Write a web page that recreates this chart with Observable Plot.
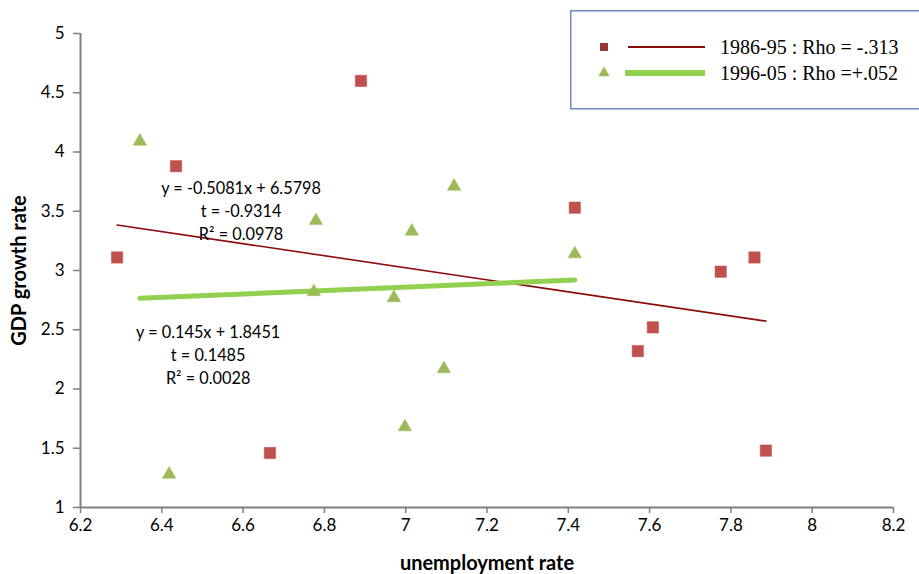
<!DOCTYPE html>
<html><head><meta charset="utf-8">
<script src="https://cdn.jsdelivr.net/npm/d3@7"></script>
<script src="https://cdn.jsdelivr.net/npm/@observablehq/plot@0.6"></script>
<style>
html,body{margin:0;padding:0;background:#fff;}
#wrap{position:relative;width:919px;height:574px;overflow:hidden;}
#legend{position:absolute;left:570px;top:10px;}
#wrap g[aria-label$="tick label"], #wrap g[aria-label$="tick label"] text{font-size:17px !important;font-family:Lato,'Open Sans',sans-serif !important;}
</style></head><body><div id="wrap"></div>
<script>
// ---- data ----
const periods = ["1986-95", "1996-05"];
const rhoLabels = ["-.313", "+.052"];
const unemp8695 = [6.290, 6.435, 6.666, 6.890, 7.416, 7.571, 7.608, 7.775, 7.858, 7.886];
const gdp8695   = [3.11, 3.88, 1.46, 4.60, 3.53, 2.32, 2.52, 2.99, 3.11, 1.48];
const unemp9605 = [6.346, 6.418, 6.779, 6.774, 6.971, 6.998, 7.015, 7.094, 7.119, 7.416];
const gdp9605   = [4.09, 1.28, 3.42, 2.82, 2.77, 1.68, 3.33, 2.17, 3.71, 3.14];
const slopes = [-0.5081, 0.145];
const intercepts = [6.5798, 1.8451];
const tStats = ["-0.9314", "0.1485"];
const r2s = ["0.0978", "0.0028"];
const annotX = [6.595, 6.514];
const annotY = [3.514, 2.297];
const xTicks = [6.2, 6.4, 6.6, 6.8, 7, 7.2, 7.4, 7.6, 7.8, 8, 8.2];
const yTicks = [1, 1.5, 2, 2.5, 3, 3.5, 4, 4.5, 5];

const pointColors = ["#c0504d", "#9bbb59"];
const lineColors = ["#8b0a0a", "#92d050"];
const lineWidths = [1.6, 5];
const symbols = ["square", "triangle"];
const radii = [6.4, 5];

const series = [
  {period: periods[0], xs: unemp8695, ys: gdp8695},
  {period: periods[1], xs: unemp9605, ys: gdp9605}
];
const points = series.flatMap((s, i) => s.xs.map((x, j) => ({x, y: s.ys[j], i})));
const fits = series.map((s, i) => {
  const [x0, x1] = d3.extent(s.xs);
  return [x0, x1].map(x => ({x, y: slopes[i] * x + intercepts[i], i}));
});
const annots = series.map((s, i) => {
  const eq = `y = ${slopes[i]}x + ${intercepts[i]}`;
  return {x: annotX[i], y: annotY[i], text: `${eq}\nt = ${tStats[i]}\nR² = ${r2s[i]}`};
});

const font = "Lato, 'Open Sans', sans-serif";
const chart = Plot.plot({
  width: 919, height: 574,
  marginLeft: 80, marginRight: 26, marginTop: 33, marginBottom: 67,
  style: {fontFamily: font, fontSize: "17px", background: "#fff", color: "#000"},
  x: {domain: [xTicks[0], xTicks[xTicks.length - 1]]},
  y: {domain: [yTicks[0], yTicks[yTicks.length - 1]]},
  marks: [
    Plot.axisY({ticks: yTicks, tickSize: 7, tickPadding: 9, stroke: "#808080", strokeWidth: 1.5, fill: "#000", label: null, tickFormat: d => String(d)}),
    Plot.axisX({ticks: xTicks, tickSize: 6, tickPadding: 5, stroke: "#808080", strokeWidth: 1.5, fill: "#000", label: null, tickFormat: d => String(d)}),
    Plot.ruleX([xTicks[0]], {stroke: "#808080", strokeWidth: 2}),
    Plot.ruleY([yTicks[0]], {stroke: "#808080", strokeWidth: 2}),
    Plot.text(["GDP growth rate"], {frameAnchor: "left", dx: -61, rotate: -90, textAnchor: "middle", lineAnchor: "middle", fontWeight: "bold", fontSize: 20}),
    Plot.text(["unemployment rate"], {frameAnchor: "bottom", dy: 56, textAnchor: "middle", lineAnchor: "middle", fontWeight: "bold", fontSize: 20}),
    ...fits.map((f, i) => Plot.line(f, {x: "x", y: "y", stroke: lineColors[i], strokeWidth: lineWidths[i], strokeLinecap: "round"})),
    ...[0, 1].map(i => Plot.dot(points.filter(p => p.i === i), {x: "x", y: "y", symbol: symbols[i], r: radii[i], fill: pointColors[i], stroke: pointColors[i], strokeWidth: 0.5})),
    Plot.text(annots, {x: "x", y: "y", text: "text", fontSize: 16.3, lineHeight: 1.41, textAnchor: "middle", lineAnchor: "middle", fill: "#000"})
  ]
});
const wrap = document.getElementById("wrap");
wrap.appendChild(chart);

// legend overlay
const lg = d3.select(wrap).append("svg").attr("id", "legend").attr("width", 360).attr("height", 100);
lg.append("rect").attr("x", 0.75).attr("y", 0.75).attr("width", 370).attr("height", 98)
  .attr("fill", "#fff").attr("stroke", "#7088c8").attr("stroke-width", 1.5);
const rowsY = [37, 63];
periods.forEach((p, i) => {
  const g = lg.append("g").attr("transform", `translate(0,${rowsY[i]})`);
  g.append("path").attr("d", d3.symbol(i === 0 ? d3.symbolSquare : d3.symbolTriangle, i === 0 ? 64 : 56)())
    .attr("transform", "translate(34,0)").attr("fill", i === 0 ? "#953735" : pointColors[1]);
  g.append("line").attr("x1", i === 0 ? 58 : 55).attr("x2", 135).attr("y1", 0).attr("y2", 0)
    .attr("stroke", lineColors[i]).attr("stroke-width", i === 0 ? 2 : 6);
  g.append("text").attr("x", 150).attr("y", 7).attr("font-family", "'Liberation Serif', serif").attr("font-size", 20)
    .text(`${p} : Rho = ${rhoLabels[i]}`.replace("= +", "=+"));
});
</script></body></html>
